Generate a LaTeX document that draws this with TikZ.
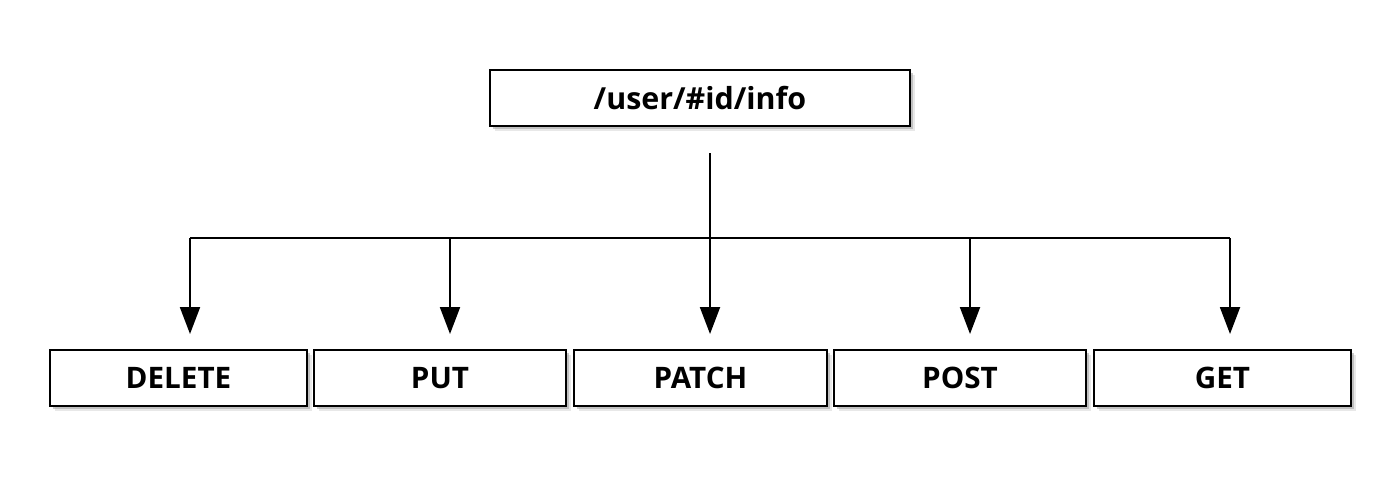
\documentclass[tikz,border=0pt]{standalone}
\usepackage{fontspec}
\setmainfont{Open Sans}
\usetikzlibrary{arrows.meta,shadows}
\tikzset{
	box/.style={draw, line width=1pt, fill=white, inner sep=0pt, minimum height=28pt,
		drop shadow={shadow xshift=2.6pt, shadow yshift=-2.6pt, fill=black!18},
		drop shadow={shadow xshift=1.6pt, shadow yshift=-1.6pt, fill=black!40}},
	method/.style={box, font=\bfseries\fontsize{14.8}{17}\selectfont},
	route/.style={box, font=\bfseries\fontsize{15.2}{18}\selectfont},
	call/.style={line width=1pt, -{Triangle[length=13.5pt, width=10pt]}, shorten >=7.5pt}
}
\begin{document}
\begin{tikzpicture}[x=0.5pt, y=-0.5pt]
		\useasboundingbox (0,0) rectangle (1400,476);
		\node[route, minimum width=210pt] (info) at (700,98) {/user/\#id/info};
		\node[method, minimum width=128.5pt] (delete) at (178.5,378) {DELETE};
		\node[method, minimum width=126pt] (put) at (440,378) {PUT};
		\node[method, minimum width=126.5pt] (patch) at (700.5,378) {PATCH};
		\node[method, minimum width=126pt] (post) at (960,378) {POST};
		\node[method, minimum width=128.5pt] (get) at (1222.5,378) {GET};
		\coordinate (stem) at (710,153);
		\coordinate (bd) at (190,238);
		\coordinate (bp) at (450,238);
		\coordinate (bo) at (970,238);
		\coordinate (bg) at (1230,238);
		\draw[line width=1pt] (bd) -- (bg);
		\draw[call] (stem) -- (stem |- patch.north);
		\draw[call] (bd) -- (bd |- delete.north);
		\draw[call] (bp) -- (bp |- put.north);
		\draw[call] (bo) -- (bo |- post.north);
		\draw[call] (bg) -- (bg |- get.north);
	\end{tikzpicture}
\end{document}
